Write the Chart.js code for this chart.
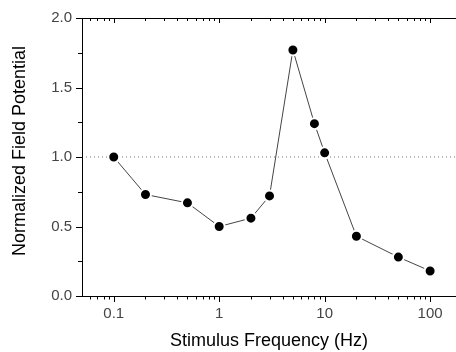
<!DOCTYPE html>
<html>
<head>
<meta charset="utf-8">
<script src="https://cdn.jsdelivr.net/npm/chart.js@4/dist/chart.umd.min.js"></script>
<style>
  html, body { margin: 0; padding: 0; background: #fff; }
  #wrap { width: 456px; height: 352px; }
</style>
</head>
<body>
<div id="wrap"><canvas id="chart" width="456" height="352"></canvas></div>
<script>
// stimulus frequency (Hz) and normalized field potential
var freqs = [0.1, 0.2, 0.5, 1, 2, 3, 5, 8, 10, 20, 50, 100];
var potentials = [1.0, 0.73, 0.67, 0.5, 0.56, 0.72, 1.77, 1.24, 1.03, 0.43, 0.28, 0.18];

// axes
var xMin = 0.05, xMax = 176;
var yMin = 0, yMax = 2.0;
var xMajorTicks = [0.1, 1, 10, 100];
var xTickLabels = ['0.1', '1', '10', '100'];
var yMajorTicks = [0, 0.5, 1.0, 1.5, 2.0];
var yTickLabels = ['0.0', '0.5', '1.0', '1.5', '2.0'];
var yMinorTicks = [0.25, 0.75, 1.25, 1.75];
var refLevel = 1.0;

var xTitle = 'Stimulus Frequency (Hz)';
var yTitle = 'Normalized Field Potential';

// minor ticks 2..9 in every decade inside the range
var xMinorTicks = [];
[0.01, 0.1, 1, 10, 100].forEach(function (d) {
  for (var m = 2; m <= 9; m++) {
    var v = +(d * m).toPrecision(3);
    if (v > xMin && v < xMax) xMinorTicks.push(v);
  }
});

var points = freqs.map(function (f, i) { return { x: f, y: potentials[i] }; });

// frame, ticks, labels, titles (no right axis in the figure)
var axesPlugin = {
  id: 'axesPlugin',
  afterDraw: function (chart) {
    var ctx = chart.ctx, a = chart.chartArea;
    var xs = chart.scales.x, ys = chart.scales.y;
    var right = chart.width;
    ctx.save();
    ctx.strokeStyle = '#000';
    ctx.lineWidth = 1;
    ctx.beginPath();
    // left, bottom, top lines
    ctx.moveTo(a.left + 0.5, a.top);
    ctx.lineTo(a.left + 0.5, a.bottom + 1);
    ctx.moveTo(a.left, a.bottom + 0.5);
    ctx.lineTo(right, a.bottom + 0.5);
    ctx.moveTo(a.left, a.top + 0.5);
    ctx.lineTo(right, a.top + 0.5);
    // x ticks: bottom outward, top inward
    xMajorTicks.forEach(function (v) {
      var px = Math.round(xs.getPixelForValue(v)) + 0.5;
      ctx.moveTo(px, a.bottom); ctx.lineTo(px, a.bottom + 6);
      ctx.moveTo(px, a.top); ctx.lineTo(px, a.top + 5);
    });
    xMinorTicks.forEach(function (v) {
      var px = Math.round(xs.getPixelForValue(v)) + 0.5;
      ctx.moveTo(px, a.bottom); ctx.lineTo(px, a.bottom + 3.5);
      ctx.moveTo(px, a.top); ctx.lineTo(px, a.top + 3);
    });
    // y ticks outward
    yMajorTicks.forEach(function (v) {
      var py = Math.round(ys.getPixelForValue(v)) + 0.5;
      ctx.moveTo(a.left - 6, py); ctx.lineTo(a.left, py);
    });
    yMinorTicks.forEach(function (v) {
      var py = Math.round(ys.getPixelForValue(v)) + 0.5;
      ctx.moveTo(a.left - 4, py); ctx.lineTo(a.left, py);
    });
    ctx.stroke();

    // tick labels
    ctx.fillStyle = '#444';
    ctx.font = '15px "Liberation Sans", Arial, sans-serif';
    ctx.textAlign = 'center';
    ctx.textBaseline = 'middle';
    xMajorTicks.forEach(function (v, i) {
      ctx.fillText(xTickLabels[i], xs.getPixelForValue(v), a.bottom + 18);
    });
    ctx.textAlign = 'right';
    yMajorTicks.forEach(function (v, i) {
      ctx.fillText(yTickLabels[i], a.left - 10, ys.getPixelForValue(v));
    });

    // axis titles
    ctx.fillStyle = '#000';
    ctx.textAlign = 'center';
    ctx.font = '18px "Liberation Sans", Arial, sans-serif';
    ctx.fillText(xTitle, (a.left + right) / 2, 341);
    ctx.translate(20, 151);
    ctx.rotate(-Math.PI / 2);
    ctx.fillText(yTitle, 0, 0);
    ctx.restore();
  }
};

var ctx = document.getElementById('chart').getContext('2d');
var chart = new Chart(ctx, {
  type: 'scatter',
  data: {
    datasets: [
      {
        label: 'reference',
        data: [{ x: xMin, y: refLevel }, { x: xMax, y: refLevel }],
        showLine: true,
        borderColor: '#777',
        borderWidth: 1,
        borderDash: [1, 3],
        pointRadius: 0,
        order: 2
      },
      {
        label: 'Field potential',
        data: points,
        showLine: true,
        borderColor: '#444',
        borderWidth: 1,
        pointRadius: 5.5,
        pointBackgroundColor: '#000',
        pointBorderColor: '#fff',
        pointBorderWidth: 2,
        order: 1
      }
    ]
  },
  options: {
    responsive: false,
    animation: false,
    layout: { autoPadding: false, padding: { left: 82, top: 18, right: 0, bottom: 56 } },
    plugins: { legend: { display: false }, tooltip: { enabled: false } },
    scales: {
      x: { type: 'logarithmic', min: xMin, max: xMax, display: false },
      y: { type: 'linear', min: yMin, max: yMax, display: false }
    }
  },
  plugins: [axesPlugin]
});
</script>
</body>
</html>
